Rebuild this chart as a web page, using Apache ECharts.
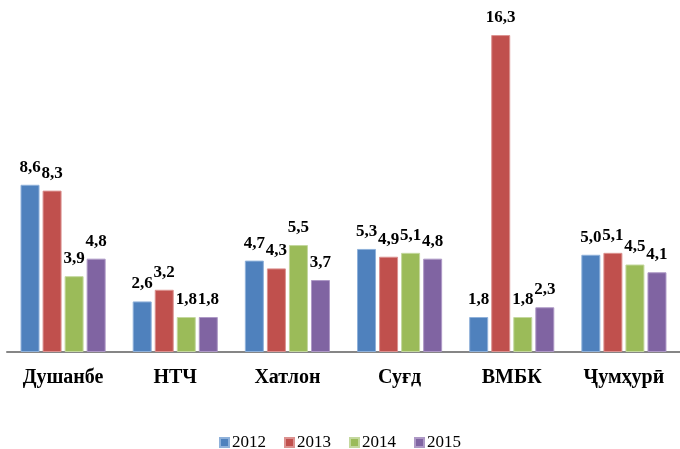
<!DOCTYPE html>
<html>
<head>
<meta charset="utf-8">
<script src="https://cdn.jsdelivr.net/npm/echarts@6/dist/echarts.min.js"></script>
<style>
  html, body { margin: 0; padding: 0; background: #fff; }
  #main { width: 680px; height: 449px; }
</style>
</head>
<body>
<div id="main"></div>
<script>
var categories = ['Душанбе', 'НТЧ', 'Хатлон', 'Суғд', 'ВМБК', 'Ҷумҳурӣ'];
var years = ['2012', '2013', '2014', '2015'];
var data2012 = [8.6, 2.6, 4.7, 5.3, 1.8, 5.0];
var data2013 = [8.3, 3.2, 4.3, 4.9, 16.3, 5.1];
var data2014 = [3.9, 1.8, 5.5, 5.1, 1.8, 4.5];
var data2015 = [4.8, 1.8, 3.7, 4.8, 2.3, 4.1];

var colors = ['#4F81BD', '#C0504D', '#9BBB59', '#8064A2'];
var borders = ['#8FB1DA', '#DC9290', '#C4D89E', '#AE99C6'];
var font = 'Liberation Serif';

var myChart = echarts.init(document.getElementById('main'));

function makeSeries(name, values, i) {
	return {
		name: name,
		type: 'bar',
		data: values,
		barWidth: 19,
		barGap: '16%',
		itemStyle: {
			color: colors[i],
			borderColor: borders[i],
			borderWidth: 1
		},
		label: {
			show: true,
			position: 'top',
			distance: 9,
			color: '#000',
			fontFamily: font,
			fontWeight: 'bold',
			fontSize: 17,
			formatter: function (p) {
				return p.value.toFixed(1).replace('.', ',');
			}
		}
	};
}

var option = {
	backgroundColor: '#fff',
	animation: false,
	color: colors,
	textStyle: { fontFamily: font },
	grid: {
		left: 7,
		right: -4,
		top: 2,
		bottom: 97
	},
	legend: {
		data: years,
		top: 429,
		left: 'center',
		padding: 5,
		icon: 'rect',
		itemWidth: 9,
		itemHeight: 9,
		itemGap: 18,
		textStyle: {
			color: '#000',
			fontFamily: font,
			fontSize: 17,
			padding: [0, 0, 0, -2]
		}
	},
	xAxis: {
		type: 'category',
		data: categories,
		axisLine: { lineStyle: { color: '#868686', width: 2 } },
		axisTick: { show: false },
		axisLabel: {
			color: '#000',
			fontFamily: font,
			fontWeight: 'bold',
			fontSize: 20,
			margin: 16
		}
	},
	yAxis: {
		type: 'value',
		min: 0,
		max: 18,
		show: false,
		splitLine: { show: false }
	},
	series: [
		makeSeries('2012', data2012, 0),
		makeSeries('2013', data2013, 1),
		makeSeries('2014', data2014, 2),
		makeSeries('2015', data2015, 3)
	]
};

myChart.setOption(option);
</script>
</body>
</html>
